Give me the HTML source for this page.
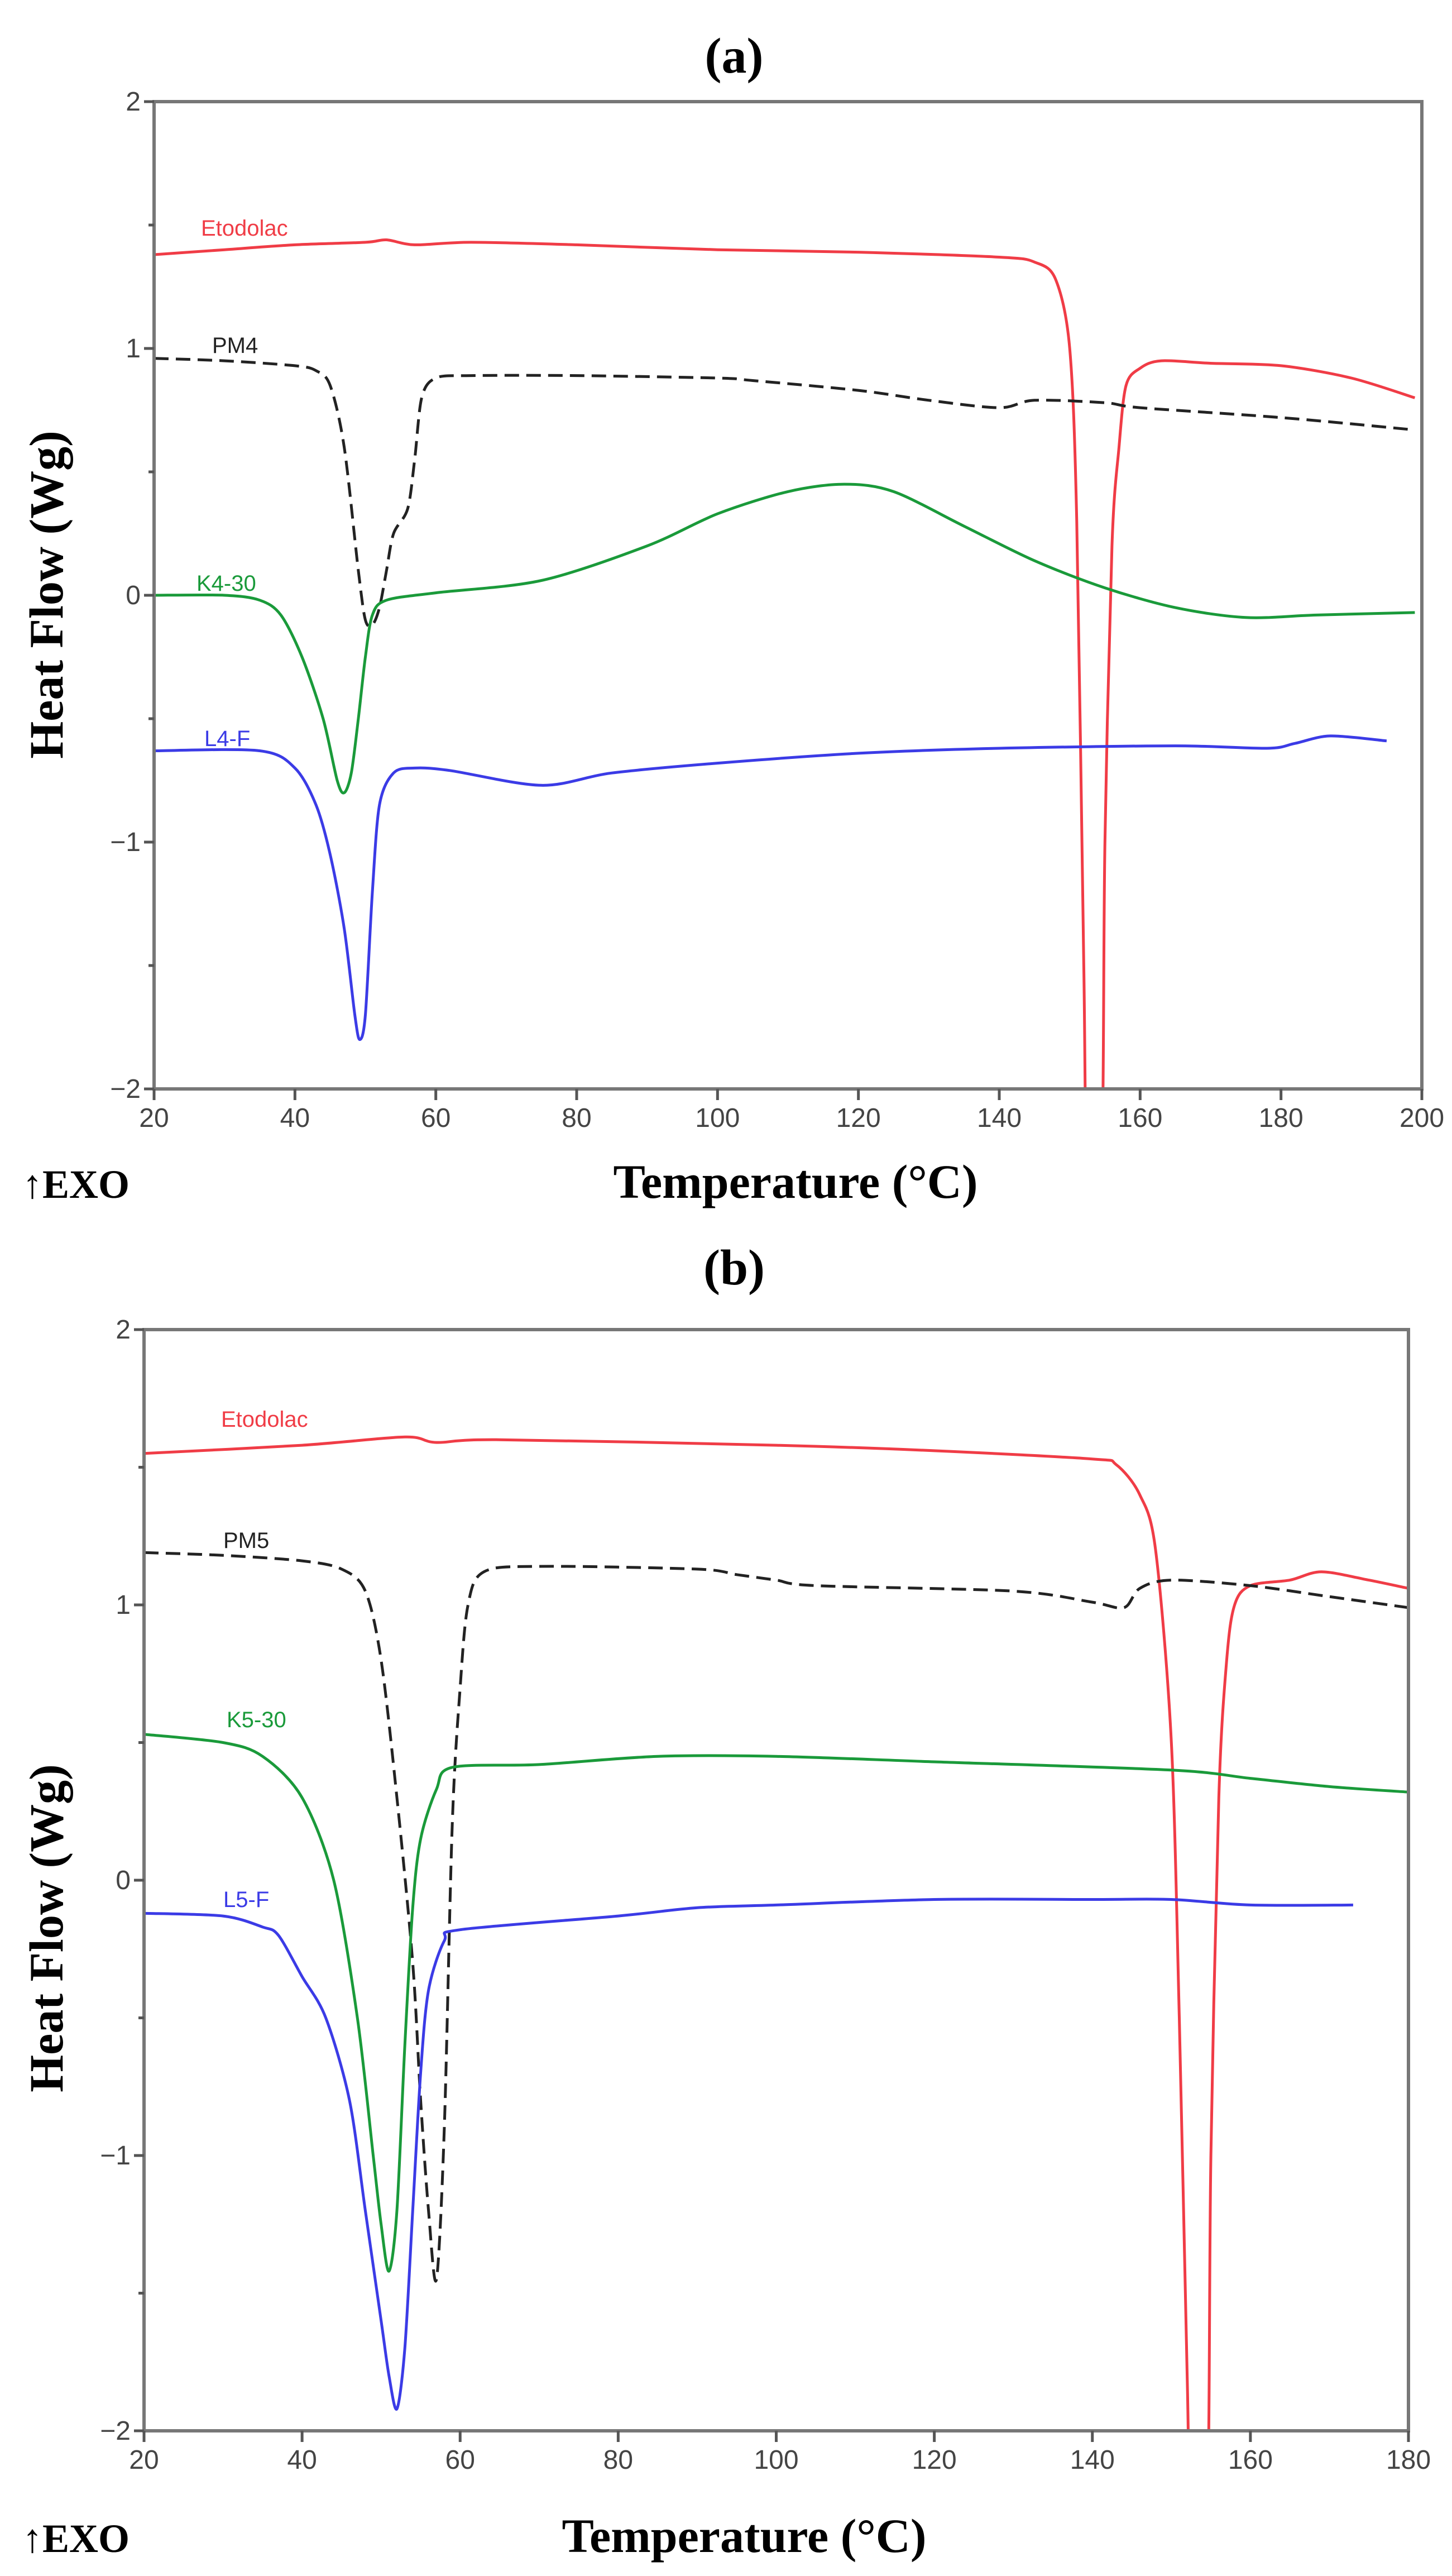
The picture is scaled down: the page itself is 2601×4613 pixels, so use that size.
<!DOCTYPE html>
<html><head><meta charset="utf-8"><style>
html,body{margin:0;padding:0;background:#fff;}
svg{display:block;}
</style></head><body>
<svg id="fig" width="2601" height="4613" viewBox="0 0 2601 4613" xmlns="http://www.w3.org/2000/svg"></svg>
<script>
// ---- Panel (a) data ----
const aEtoT=[20,30,40,50,53,57,65,80,100,120,140,145,148,150,151,152,152.5,154.5,155,156,157,158,160,163,170,180,190,199];
const aEtoV=[1.38,1.40,1.42,1.43,1.44,1.42,1.43,1.42,1.40,1.39,1.37,1.35,1.28,1.0,0.3,-1.5,-2.3,-2.3,-1.0,0.2,0.6,0.85,0.92,0.95,0.94,0.93,0.88,0.80];
const aPmT=[20,30,40,43,45,47,49,50,51,52,53,54,56,57,58,60,65,80,100,105,120,130,140,145,155,160,180,199];
const aPmV=[0.96,0.95,0.93,0.91,0.85,0.6,0.1,-0.1,-0.12,-0.05,0.1,0.25,0.35,0.55,0.8,0.88,0.89,0.89,0.88,0.87,0.83,0.79,0.76,0.79,0.78,0.76,0.72,0.67];
const aKT=[20,30,35,38,41,44,46,47,48,49,50,51,53,60,75,90,100,110,118,125,135,145,155,165,175,185,199];
const aKV=[0,0,-0.02,-0.08,-0.25,-0.5,-0.75,-0.8,-0.72,-0.5,-0.25,-0.08,-0.02,0.01,0.06,0.2,0.33,0.42,0.45,0.42,0.28,0.14,0.03,-0.05,-0.09,-0.08,-0.07];
const aLT=[20,35,40,43,45,47,48.5,49.2,50,51,52,54,57,62,75,85,100,120,140,165,178,182,187,195];
const aLV=[-0.63,-0.63,-0.7,-0.85,-1.05,-1.35,-1.7,-1.8,-1.7,-1.2,-0.85,-0.72,-0.7,-0.71,-0.77,-0.72,-0.68,-0.64,-0.62,-0.61,-0.62,-0.6,-0.57,-0.59];
const aXTicks=[20,40,60,80,100,120,140,160,180,200];
const yTicks=[2,1,0,-1,-2];
const yTickLabels=["2","1","0","\u22121","\u22122"];
// ---- Panel (b) data ----
const bEtoT=[20,40,53,57,65,100,120,140,143,146,148,150,151,152,152.5,154.5,155,156,157,158,160,165,169,175,180];
const bEtoV=[1.55,1.58,1.61,1.59,1.60,1.58,1.56,1.53,1.51,1.4,1.2,0.5,-0.5,-1.8,-2.3,-2.3,-1.0,0.3,0.8,1.0,1.07,1.09,1.12,1.09,1.06];
const bPmT=[20,30,40,45,48,50,52,54,55,56,57,58,59,60,61,63,70,90,95,100,105,130,140,144,146,150,160,170,180];
const bPmV=[1.19,1.18,1.16,1.13,1.05,0.8,0.3,-0.3,-0.8,-1.2,-1.45,-0.9,0.2,0.7,1.0,1.12,1.14,1.13,1.11,1.09,1.07,1.05,1.01,0.99,1.06,1.09,1.07,1.03,0.99];
const bKT=[20,30,35,40,44,47,49,50,51,52,53,54,55,57,59,70,85,100,120,150,160,170,180];
const bKV=[0.53,0.5,0.45,0.3,0.0,-0.5,-1.0,-1.25,-1.42,-1.2,-0.6,-0.1,0.15,0.33,0.41,0.42,0.45,0.45,0.43,0.40,0.37,0.34,0.32];
const bLT=[20,30,35,37,40,43,46,48,50,51,52,53,54,55,56,58,60,80,90,100,120,140,150,160,173];
const bLV=[-0.12,-0.13,-0.17,-0.2,-0.35,-0.5,-0.8,-1.2,-1.6,-1.8,-1.92,-1.7,-1.2,-0.7,-0.4,-0.22,-0.18,-0.13,-0.1,-0.09,-0.07,-0.07,-0.07,-0.09,-0.09];
const bXTicks=[20,40,60,80,100,120,140,160,180];

const NS="http://www.w3.org/2000/svg";
const svg=document.getElementById('fig');
function mk(tag,attrs,parent){const e=document.createElementNS(NS,tag);for(const k in attrs)e.setAttribute(k,attrs[k]);(parent||svg).appendChild(e);return e;}
function smooth(pts){
  let d="M"+pts[0][0].toFixed(1)+","+pts[0][1].toFixed(1);
  for(let i=0;i<pts.length-1;i++){
    const p0=pts[i-1]||pts[i],p1=pts[i],p2=pts[i+1],p3=pts[i+2]||p2;
    const t=0.15;
    const c1=[p1[0]+(p2[0]-p0[0])*t,p1[1]+(p2[1]-p0[1])*t];
    const c2=[p2[0]-(p3[0]-p1[0])*t,p2[1]-(p3[1]-p1[1])*t];
    d+=" C"+c1[0].toFixed(1)+","+c1[1].toFixed(1)+" "+c2[0].toFixed(1)+","+c2[1].toFixed(1)+" "+p2[0].toFixed(1)+","+p2[1].toFixed(1);
  }
  return d;
}
function panel(cfg){
  const g=mk('g',{});
  
  
  const X=t=>cfg.L+(t-cfg.x0)/(cfg.x1-cfg.x0)*(cfg.R-cfg.L);
  const Y=v=>cfg.T+(2-v)/4*(cfg.B-cfg.T);
  const cp=mk('clipPath',{id:cfg.id+'-clip'},g);
  mk('rect',{x:cfg.L,y:cfg.T,width:cfg.R-cfg.L,height:cfg.B-cfg.T},cp);
  cfg.series.forEach(s=>{
    const pts=s.t.map((t,i)=>[X(t),Y(s.v[i])]);
    const p=mk('path',{d:smooth(pts),fill:'none',stroke:s.c,'stroke-width':5,'stroke-linejoin':'round','clip-path':'url(#'+cfg.id+'-clip)'},g);
    if(s.dash)p.setAttribute('stroke-dasharray','26 13');
    
    
    const tx=mk('text',{x:s.lx,y:s.ly,fill:s.c,'font-family':'Liberation Sans, sans-serif','font-size':40},g);
    tx.textContent=s.label;
    
    
  });
  const fr=mk('rect',{x:cfg.L,y:cfg.T,width:cfg.R-cfg.L,height:cfg.B-cfg.T,fill:'none',stroke:'#777','stroke-width':6},g);
  
  
  yTicks.forEach((v,i)=>{
    mk('line',{x1:cfg.L-18,x2:cfg.L,y1:Y(v),y2:Y(v),stroke:'#555','stroke-width':5},g);
    const t=mk('text',{x:cfg.L-24,y:Y(v)+16,'text-anchor':'end',fill:'#444','font-family':'Liberation Sans, sans-serif','font-size':48},g);
    t.textContent=yTickLabels[i];
    
    
    if(i<yTicks.length-1){const m=(v+yTicks[i+1])/2;mk('line',{x1:cfg.L-10,x2:cfg.L,y1:Y(m),y2:Y(m),stroke:'#555','stroke-width':5},g);}
  });
  cfg.xt.forEach(v=>{
    mk('line',{x1:X(v),x2:X(v),y1:cfg.B,y2:cfg.B+20,stroke:'#555','stroke-width':5},g);
    const t=mk('text',{x:X(v),y:cfg.B+68,'text-anchor':'middle',fill:'#444','font-family':'Liberation Sans, sans-serif','font-size':48},g);
    t.textContent=String(v);
    
    
  });
  const ti=mk('text',{x:cfg.titleX,y:cfg.titleY,'text-anchor':'middle',fill:'#000','font-family':'Liberation Serif, serif','font-weight':'bold','font-size':90},g);
  ti.textContent=cfg.title;
  
  
  const yl=mk('text',{x:0,y:0,transform:'translate(112,'+cfg.ylY+') rotate(-90)','text-anchor':'middle',fill:'#000','font-family':'Liberation Serif, serif','font-weight':'bold','font-size':86},g);
  yl.textContent='Heat Flow (Wg)';
  
  
  const xl=mk('text',{x:cfg.xlX,y:cfg.xlY,'text-anchor':'middle',fill:'#000','font-family':'Liberation Serif, serif','font-weight':'bold','font-size':86},g);
  xl.textContent='Temperature (°C)';
  
  
  const ex=mk('text',{x:40,y:cfg.xlY,fill:'#000','font-family':'Liberation Serif, serif','font-weight':'bold','font-size':72},g);
  ex.textContent='↑EXO';
  
  
}
panel({id:'panel-a',L:276,R:2547,T:182,B:1950,x0:20,x1:200,xt:aXTicks,title:'(a)',titleX:1315,titleY:130,ylY:1065,xlX:1425,xlY:2145,
 series:[
  {name:'etodolac',label:'Etodolac',t:aEtoT,v:aEtoV,c:'#f03c46',lx:360,ly:422},
  {name:'pm4',label:'PM4',t:aPmT,v:aPmV,c:'#222',dash:true,lx:380,ly:632},
  {name:'k4-30',label:'K4-30',t:aKT,v:aKV,c:'#1a9a3a',lx:352,ly:1058},
  {name:'l4-f',label:'L4-F',t:aLT,v:aLV,c:'#3b3be6',lx:366,ly:1336}
 ]});
panel({id:'panel-b',L:258,R:2523,T:2381,B:4353,x0:20,x1:180,xt:bXTicks,title:'(b)',titleX:1315,titleY:2300,ylY:3453,xlX:1333,xlY:4570,
 series:[
  {name:'etodolac',label:'Etodolac',t:bEtoT,v:bEtoV,c:'#f03c46',lx:396,ly:2555},
  {name:'pm5',label:'PM5',t:bPmT,v:bPmV,c:'#222',dash:true,lx:400,ly:2772},
  {name:'k5-30',label:'K5-30',t:bKT,v:bKV,c:'#1a9a3a',lx:406,ly:3093},
  {name:'l5-f',label:'L5-F',t:bLT,v:bLV,c:'#3b3be6',lx:400,ly:3415}
 ]});
</script>
</body></html>
